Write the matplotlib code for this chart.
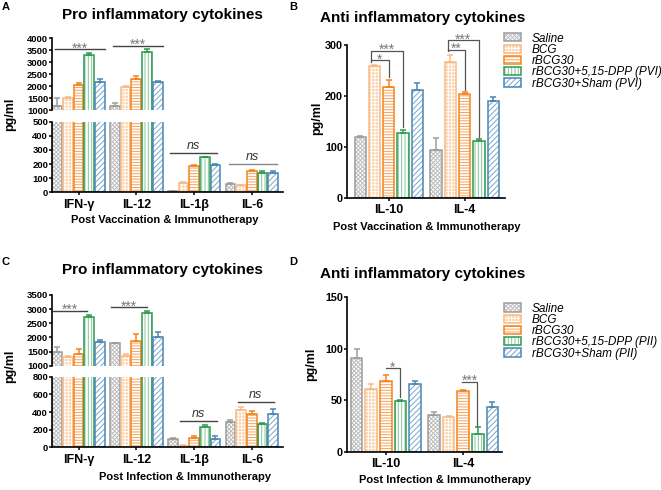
import numpy as np
import matplotlib
matplotlib.use("Agg")
import matplotlib.pyplot as plt
from matplotlib.patches import Patch

plt.rcParams["font.family"] = ["Liberation Sans", "DejaVu Sans"]
plt.rcParams["font.weight"] = "bold"
plt.rcParams["hatch.linewidth"] = 0.7

# ---- data -------------------------------------------------------------
groups = ["Saline", "BCG", "rBCG30", "rBCG30+5,15-DPP", "rBCG30+Sham"]
legend_pvi = ["Saline", "BCG", "rBCG30", "rBCG30+5,15-DPP (PVI)", "rBCG30+Sham (PVI)"]
legend_pii = ["Saline", "BCG", "rBCG30", "rBCG30+5,15-DPP (PII)", "rBCG30+Sham (PII)"]
pro_cats = ["IFN-γ", "IL-12", "IL-1β", "IL-6"]
anti_cats = ["IL-10", "IL-4"]

# rows follow `groups`, columns follow the category list (pg/ml)
pro_vacc_mean = [[1160, 1160, 8, 60],
                 [1510, 1960, 66, 50],
                 [2040, 2290, 188, 148],
                 [3320, 3440, 248, 136],
                 [2180, 2170, 195, 136]]
pro_vacc_err = [[330, 130, 3, 6],
                [40, 50, 5, 5],
                [110, 120, 5, 12],
                [80, 130, 4, 12],
                [130, 60, 6, 14]]

anti_vacc_mean = [[119, 94],
                  [259, 266],
                  [217, 203],
                  [127, 112],
                  [212, 191]]
anti_vacc_err = [[3, 23],
                 [1, 14],
                 [14, 5],
                 [6, 4],
                 [13, 8]]

pro_inf_mean = [[1470, 1790, 91, 283],
                [1320, 1340, 19, 423],
                [1410, 1880, 109, 377],
                [2730, 2850, 234, 264],
                [1850, 2000, 91, 374]]
pro_inf_err = [[200, 25, 18, 26],
               [30, 60, 7, 34],
               [165, 225, 19, 34],
               [60, 80, 19, 8],
               [50, 175, 41, 56]]

anti_inf_mean = [[91.4, 35.6],
                 [60.6, 33.7],
                 [69, 59],
                 [49, 16.8],
                 [66, 43.4]]
anti_inf_err = [[8.6, 3.3],
                [4.8, 0.5],
                [6, 0.6],
                [1, 7.5],
                [2.7, 5.2]]

# significance marks: (axis, x1, x2, y, label)
pro_vacc_sig = [("top", -0.41, 0.46, 3540, "***"),
                ("top", 0.60, 1.47, 3690, "***"),
                ("bot", 1.58, 2.40, 276, "ns"),
                ("bot", 2.60, 3.43, 198, "ns")]
pro_inf_sig = [("top", -0.45, 0.15, 2946, "***"),
               ("top", 0.56, 1.18, 3075, "***"),
               ("bot", 1.76, 2.39, 302, "ns"),
               ("bot", 2.76, 3.38, 517, "ns")]
# brackets: (x_left, x_right, y_line, y_left_end, y_right_end, label)
anti_vacc_sig = [(-0.24, 0.0, 270, 267, 238, "*"),
                 (-0.24, 0.188, 289, 270, 140, "***"),
                 (0.776, 1.0, 291, 288, 212, "**"),
                 (0.776, 1.188, 310, 291, 120, "***")]
anti_inf_sig = [(0.0, 0.187, 81, 81, 53, "*"),
                (0.983, 1.178, 68, 68, 25, "***")]

# ---- styling ----------------------------------------------------------
styles = [
    dict(edge="#9d9d9d", face="white", hcol="#bdbdbd", hatch="xxxxxxxx"),
    dict(edge="#f8bb86", face="#fbd2aa", hcol="white", hatch="+++++"),
    dict(edge="#f4841c", face="white", hcol="#f6a25a", hatch="------"),
    dict(edge="#2d9a4e", face="white", hcol="#86c69a", hatch="|||||"),
    dict(edge="#4a86b4", face="white", hcol="#79a6cc", hatch="//////"),
]
STAR_COL = "#777777"

W, H = 661, 490
fig = plt.figure(figsize=(W / 100, H / 100), dpi=100)


def fx(px):
    return px / W


def fy(py):
    return 1 - py / H


def rect(x0, y_top, x1, y_bot):
    return [fx(x0), fy(y_bot), fx(x1) - fx(x0), fy(y_top) - fy(y_bot)]


def draw_bars(ax, means, errs, step, width):
    x0 = np.arange(len(means[0]))
    for i, st in enumerate(styles):
        x = x0 + (i - 2) * step
        ax.bar(x, means[i], width, color=st["face"], edgecolor=st["hcol"],
               hatch=st["hatch"], linewidth=0)
        ax.bar(x, means[i], width, color="none", edgecolor=st["edge"], linewidth=1.1)
        ax.errorbar(x, means[i], yerr=[np.zeros(len(x)), errs[i]], fmt="none",
                    ecolor=st["edge"], elinewidth=1.1, capsize=2.2, capthick=1.1)


def style_y(ax, lim, ticks, size):
    ax.set_ylim(*lim)
    ax.set_yticks(ticks)
    ax.spines["top"].set_visible(False)
    ax.spines["right"].set_visible(False)
    for s in ("left", "bottom"):
        ax.spines[s].set_linewidth(1.2)
    ax.tick_params(axis="y", length=2.2, width=1.1, labelsize=size, pad=0.6)
    ax.tick_params(axis="x", length=2.5, width=1.1, labelsize=9, pad=2)


def star_text(ax, x, y, label):
    if label == "ns":
        ax.annotate(label, (x, y), xytext=(0, 0.8), textcoords="offset points",
                    ha="center", va="bottom", fontsize=9, style="italic",
                    fontweight="normal", color="#333333", annotation_clip=False)
    else:
        ax.annotate(label, (x, y), xytext=(0, -2.5), textcoords="offset points",
                    ha="center", va="baseline", fontsize=10, fontweight="normal",
                    color=STAR_COL, annotation_clip=False)


def broken_panel(top_rect, bot_rect, means, errs, top_lim, top_ticks,
                 bot_lim, bot_ticks, sig):
    ax_t = fig.add_axes(top_rect)
    ax_b = fig.add_axes(bot_rect)
    for ax in (ax_t, ax_b):
        draw_bars(ax, means, errs, 0.185, 0.168)
        ax.set_xlim(-0.46, 3.54)
    style_y(ax_t, top_lim, top_ticks, 6.8)
    style_y(ax_b, bot_lim, bot_ticks, 6.8)
    ax_t.spines["bottom"].set_visible(False)
    ax_t.set_xticks([])
    ax_b.set_xticks(range(len(pro_cats)))
    ax_b.set_xticklabels(pro_cats)
    for where, x1, x2, y, label in sig:
        ax = ax_t if where == "top" else ax_b
        col = "#444444" if label != "ns" or y > 250 else "#888888"
        ax.plot([x1, x2], [y, y], color=col, lw=1.0, clip_on=False)
        star_text(ax, (x1 + x2) / 2, y, label)
    return ax_t, ax_b


def single_panel(r, means, errs, lim, ticks, xlim, sig, labels, leg_xy):
    ax = fig.add_axes(r)
    draw_bars(ax, means, errs, 0.188, 0.15)
    ax.set_xlim(*xlim)
    style_y(ax, lim, ticks, 7.8)
    ax.set_xticks(range(len(anti_cats)))
    ax.set_xticklabels(anti_cats)
    for x1, x2, y, yl, yr, label in sig:
        ax.plot([x1, x1, x2, x2], [yl, y, y, yr], color="#555555", lw=0.9,
                clip_on=False)
        star_text(ax, (x1 + x2) / 2, y, label)
    handles = [(Patch(facecolor=st["face"], edgecolor=st["hcol"], hatch=st["hatch"], lw=0),
                Patch(facecolor="none", edgecolor=st["edge"], lw=1.1)) for st in styles]
    fig.legend(handles, labels, loc="upper left", bbox_to_anchor=leg_xy,
               frameon=False, prop=dict(style="italic", weight="normal", size=8.5),
               handlelength=1.4, handleheight=0.7, handletextpad=0.95,
               labelspacing=-0.06, borderpad=0, borderaxespad=0)
    return ax


# Panel A
broken_panel(rect(52, 38.3, 283, 110), rect(52, 121.7, 283, 192.3),
             pro_vacc_mean, pro_vacc_err, (1000, 4000), range(1000, 4001, 500),
             (0, 500), range(0, 501, 100), pro_vacc_sig)
# Panel B
single_panel(rect(347, 45, 505, 198), anti_vacc_mean, anti_vacc_err,
             (0, 300), range(0, 301, 100), (-0.55, 1.53), anti_vacc_sig,
             legend_pvi, (fx(504), fy(32.5)))
# Panel C
broken_panel(rect(52, 295, 283, 365.7), rect(52, 376.7, 283, 447.3),
             pro_inf_mean, pro_inf_err, (1000, 3500), range(1000, 3501, 500),
             (0, 800), range(0, 801, 200), pro_inf_sig)
# Panel D
single_panel(rect(347, 297.3, 502, 451.7), anti_inf_mean, anti_inf_err,
             (0, 150), range(0, 151, 50), (-0.5, 1.5), anti_inf_sig,
             legend_pii, (fx(504), fy(302.5)))

# titles, axis labels, panel letters
for x, y, t in [(162, 15, "Pro inflammatory cytokines"),
                (423, 18, "Anti inflammatory cytokines"),
                (162, 270, "Pro inflammatory cytokines"),
                (423, 274, "Anti inflammatory cytokines")]:
    fig.text(fx(x), fy(y), t, ha="center", va="center", fontsize=11)

for x, y, t in [(165, 220, "Post Vaccination & Immunotherapy"),
                (427, 227, "Post Vaccination & Immunotherapy"),
                (185, 477, "Post Infection & Immunotherapy"),
                (445, 480, "Post Infection & Immunotherapy")]:
    fig.text(fx(x), fy(y), t, ha="center", va="center", fontsize=8)

for x, y in [(10, 114), (317, 118), (10, 366), (311, 364)]:
    fig.text(fx(x), fy(y), "pg/ml", ha="center", va="center", fontsize=9,
             rotation=90)

for x, y, t in [(6, 7.5, "A"), (293, 6.5, "B"), (5, 262, "C"), (293, 262, "D")]:
    fig.text(fx(x), fy(y), t, ha="center", va="center", fontsize=8)

fig.savefig("out.png", dpi=100)
